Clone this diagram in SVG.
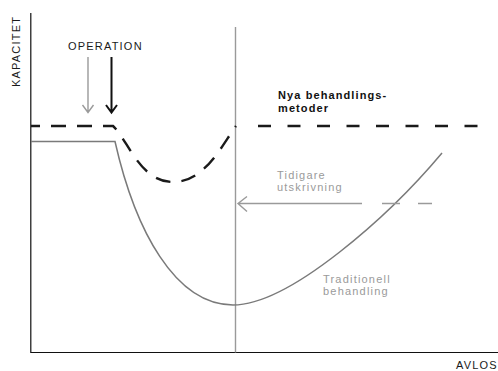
<svg xmlns="http://www.w3.org/2000/svg" width="498" height="371" viewBox="0 0 498 371">
  <style>
    .lbl { font-family: "Liberation Sans", Arial, sans-serif; font-size: 11px; letter-spacing: 1.2px; }
    .dark { fill: #1a1a1a; }
    .grey { fill: #9a9a9a; }
    .bold { font-weight: bold; letter-spacing: 1.1px; fill: #111; }
    .axis { stroke: #111; stroke-width: 1.2; fill: none; }
    .dash { stroke: #1a1a1a; stroke-width: 2.4; fill: none; }
    .trad { stroke: #7a7a7a; stroke-width: 1.5; fill: none; }
    .faint { stroke: #9a9a9a; stroke-width: 1.4; fill: none; }
  </style>
  <rect width="498" height="371" fill="#ffffff"/>

  <!-- axes -->
  <g id="axes">
    <path class="axis" d="M30.8,13 V352.5 H498"/>
    <text class="lbl dark" transform="translate(19.5,87) rotate(-90)">KAPACITET</text>
    <text class="lbl dark" x="456" y="368.5">AVLOS</text>
  </g>

  <g id="connectors">
    <!-- discharge marker (vertical) -->
    <path class="faint" d="M235.5,27 V352.5"/>
    <!-- new treatment methods: dashed capacity curve -->
    <path class="dash" stroke-dasharray="15 11" stroke-dashoffset="6" d="M31,126 H113 C128,140 140,182 173,182 C205,182 222,145 236,126"/>
    <path class="dash" stroke-dasharray="13 16.5" d="M258,126 H478"/>
    <!-- traditional treatment: capacity curve -->
    <path class="trad" d="M31,141.5 H115 C135,230 175,305 233,305 C290,305 390,215 442,153"/>
    <!-- operation arrows -->
    <path class="faint" d="M88,57 V112.5 M82.5,105 L88,112.5 L93.5,105"/>
    <path stroke="#111" stroke-width="2" fill="none" d="M111.5,57 V112.5 M106,105 L111.5,112.5 L117,105"/>
    <!-- earlier discharge arrow -->
    <path class="faint" d="M238,203.5 H362 M382,203.5 H400 M418,203.5 H432 M247,196.5 L238,203.5 L247,211.5"/>
  </g>

  <g id="label-operation">
    <text class="lbl dark" x="68" y="50">OPERATION</text>
  </g>
  <g id="label-nya">
    <text class="lbl bold" x="278" y="98.5">Nya behandlings-</text>
    <text class="lbl bold" x="278" y="111.5">metoder</text>
  </g>
  <g id="label-tidigare">
    <text class="lbl grey" x="277" y="178.5">Tidigare</text>
    <text class="lbl grey" x="277" y="190.5">utskrivning</text>
  </g>
  <g id="label-traditionell">
    <text class="lbl grey" x="323" y="282.5">Traditionell</text>
    <text class="lbl grey" x="323" y="294.5">behandling</text>
  </g>
</svg>
